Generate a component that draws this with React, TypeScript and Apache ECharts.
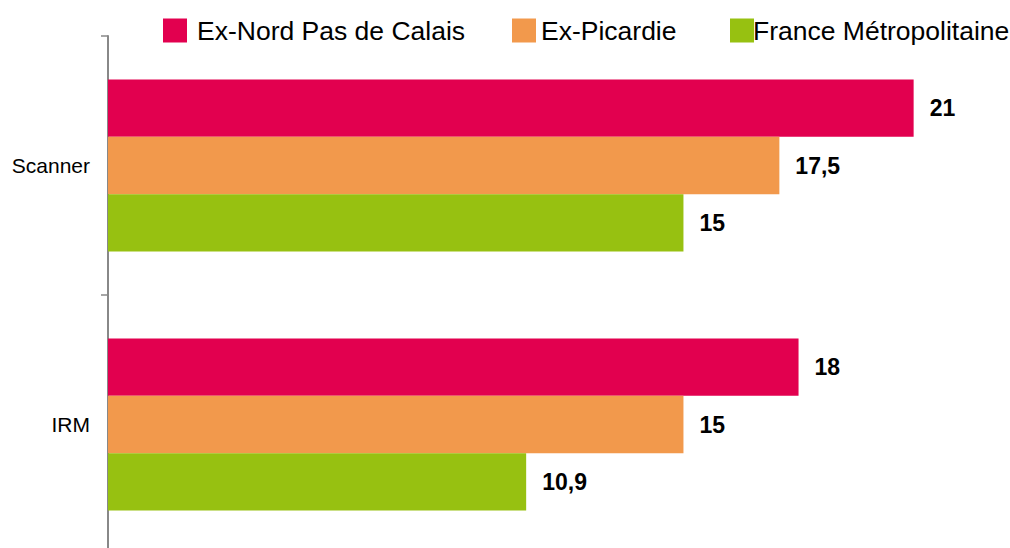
import React, { useEffect, useRef } from "react";
import * as echarts from "echarts";

const categories = ["Scanner", "IRM"];
const seriesNames = ["Ex-Nord Pas de Calais", "Ex-Picardie", "France Métropolitaine"];
const nordPasDeCalais = [21, 18];
const picardie = [17.5, 15];
const franceMetro = [15, 10.9];
const colors = ["#E2004F", "#F2994C", "#97C111"];

const fmt = (v: number) => String(v).replace(".", ",");

export default function App() {
  const ref = useRef<HTMLDivElement>(null);
  useEffect(() => {
    if (!ref.current) return;
    const chart = echarts.init(ref.current, null, { renderer: "svg" });
    const values = [nordPasDeCalais, picardie, franceMetro];
    const legendLefts = [163, 512, 730];
    const legendPads = [[0, 0, 10, 5], [0, 0, 10, 0], [0, 0, 10, -6]];
    chart.setOption({
      animation: false,
      textStyle: { fontFamily: "Liberation Sans, Arial, sans-serif" },
      legend: seriesNames.map((n, i) => ({
        data: [n],
        left: legendLefts[i],
        top: 17,
        padding: 0,
        itemWidth: 24,
        itemHeight: 24,
        icon: "rect",
        textStyle: {
          fontSize: 26.5,
          lineHeight: 14,
          color: "#000",
          fontFamily: "Liberation Sans, Arial, sans-serif",
          padding: legendPads[i],
        },
      })),
      grid: { left: 108, top: 36, height: 518, width: 844, containLabel: false },
      xAxis: { type: "value", min: 0, max: 22, show: false },
      yAxis: {
        type: "category",
        data: categories,
        inverse: true,
        axisLine: { lineStyle: { color: "#888", width: 2 } },
        axisTick: { show: true, length: 7, lineStyle: { color: "#888", width: 1.5 } },
        axisLabel: {
          fontSize: 21,
          color: "#000",
          margin: 18,
          fontFamily: "Liberation Sans, Arial, sans-serif",
        },
        splitLine: { show: false },
      },
      series: seriesNames.map((n, i) => ({
        name: n,
        type: "bar",
        data: values[i],
        barWidth: 57.3,
        barGap: "0%",
        itemStyle: { color: colors[i] },
        label: {
          show: true,
          position: "right",
          distance: 16,
          fontSize: 23,
          fontWeight: "bold",
          color: "#000",
          fontFamily: "Liberation Sans, Arial, sans-serif",
          formatter: (p: any) => fmt(p.value),
        },
      })),
    });
    return () => chart.dispose();
  }, []);
  return (
    <div
      style={{ position: "fixed", left: 0, top: 0, width: 1010, height: 548, overflow: "hidden", background: "#fff" }}
    >
      <div ref={ref} style={{ width: 1010, height: 600 }} />
    </div>
  );
}
